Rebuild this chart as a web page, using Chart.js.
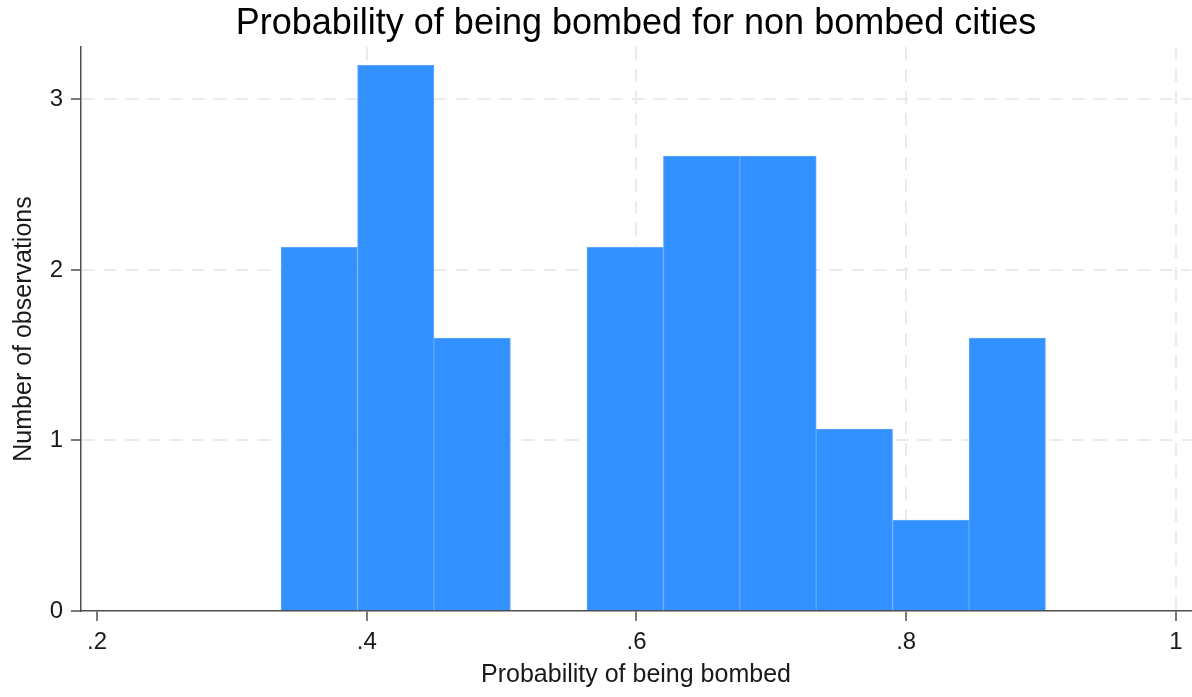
<!DOCTYPE html>
<html>
<head>
<meta charset="utf-8">
<script src="https://cdn.jsdelivr.net/npm/chart.js@4"></script>
<style>
    html, body { margin: 0; padding: 0; background: #fff; }
    #wrap { width: 1192px; height: 697px; position: relative; }
</style>
</head>
<body>
<div id="wrap"><canvas id="chartHist"></canvas></div>
<script>
// Histogram bins (centers) and heights
const binCenters = [0.3648, 0.4215, 0.4782, 0.5349, 0.5916, 0.6483, 0.7050, 0.7616, 0.8183, 0.8750];
const densities = [2.133, 3.2, 1.6, 0, 2.133, 2.667, 2.667, 1.067, 0.533, 1.6];

// Axis ticks
const xTicks = [0.2, 0.4, 0.6, 0.8, 1];
const xTickLabels = ['.2', '.4', '.6', '.8', '1'];
const yTicks = [0, 1, 2, 3];
const yTickLabels = ['0', '1', '2', '3'];

const FONT = "'Liberation Sans', Arial, sans-serif";
const AXIS_COLOR = '#4d4d4d';
const GRID_COLOR = '#ebebeb';

const points = binCenters.map((x, i) => ({ x: x, y: densities[i] }));

const ctx = document.getElementById('chartHist').getContext('2d');
new Chart(ctx, {
    type: 'bar',
    data: {
        datasets: [{
            data: points,
            backgroundColor: '#3390ff',
            borderColor: '#5ea8ff',
            borderWidth: 1,
            borderSkipped: 'bottom',
            barPercentage: 1,
            categoryPercentage: 1
        }]
    },
    options: {
        responsive: true,
        maintainAspectRatio: false,
        animation: false,
        layout: { padding: { right: 1 } },
        plugins: {
            legend: { display: false },
            tooltip: { enabled: false },
            title: {
                display: true,
                text: 'Probability of being bombed for non bombed cities',
                fullSize: false,
                color: '#000',
                font: { family: FONT, size: 36, weight: 'normal', lineHeight: 1.2 },
                padding: { top: 2.4, bottom: 1.4 }
            }
        },
        scales: {
            x: {
                type: 'linear',
                min: 0.1881,
                max: 1.0112,
                offset: false,
                afterBuildTicks: (scale) => { scale.ticks = xTicks.map(v => ({ value: v })); },
                afterFit: (scale) => { scale.height = 86; },
                ticks: {
                    autoSkip: false,
                    maxRotation: 0,
                    padding: 7,
                    color: '#1a1a1a',
                    font: { family: FONT, size: 24 },
                    callback: (value) => xTickLabels[xTicks.indexOf(value)]
                },
                grid: {
                    offset: false,
                    lineWidth: 2,
                    color: (c) => (c.tick && c.tick.value === 0.2) ? 'rgba(0,0,0,0)' : GRID_COLOR,
                    tickColor: AXIS_COLOR,
                    tickWidth: 1.5,
                    tickLength: 10
                },
                border: { display: true, color: AXIS_COLOR, width: 1.5, dash: [13, 9] },
                title: {
                    display: true,
                    text: 'Probability of being bombed',
                    color: '#1a1a1a',
                    font: { family: FONT, size: 25, lineHeight: 1.2 },
                    padding: { top: 0, bottom: 7 }
                }
            },
            y: {
                min: 0,
                max: 3.307,
                afterBuildTicks: (scale) => { scale.ticks = yTicks.map(v => ({ value: v })); },
                afterFit: (scale) => { scale.width = 81; },
                ticks: {
                    padding: 8,
                    color: '#1a1a1a',
                    font: { family: FONT, size: 24 },
                    callback: (value) => yTickLabels[yTicks.indexOf(value)]
                },
                grid: {
                    lineWidth: 2,
                    color: (c) => (c.tick && c.tick.value === 0) ? 'rgba(0,0,0,0)' : GRID_COLOR,
                    tickColor: AXIS_COLOR,
                    tickWidth: 1.5,
                    tickLength: 10
                },
                border: { display: true, color: AXIS_COLOR, width: 1.5, dash: [13, 9] },
                title: {
                    display: true,
                    text: 'Number of observations',
                    color: '#1a1a1a',
                    font: { family: FONT, size: 25, lineHeight: 1.2 },
                    padding: { top: 9, bottom: 0 }
                }
            }
        }
    }
});
</script>
</body>
</html>
